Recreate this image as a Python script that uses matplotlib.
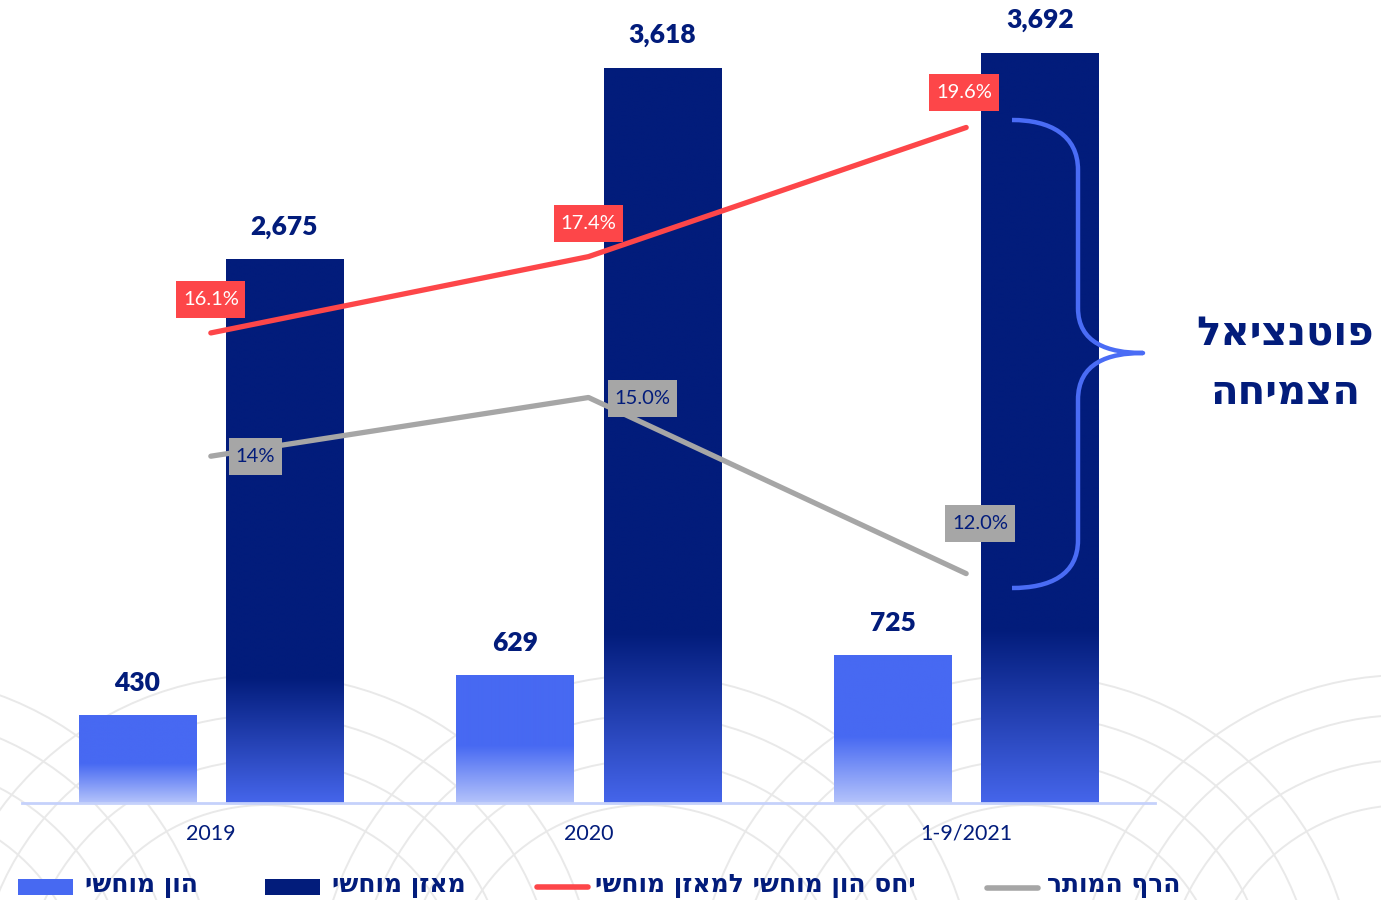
import numpy as np
import matplotlib
matplotlib.use('Agg')
import matplotlib.pyplot as plt
from matplotlib.colors import LinearSegmentedColormap
from matplotlib.path import Path
from matplotlib.patches import PathPatch, Rectangle, Circle

# ---------------- data ----------------
categories = ['2019', '2020', '1-9/2021']
tangible_equity = [430, 629, 725]          # הון מוחשי
tangible_balance = [2675, 3618, 3692]      # מאזן מוחשי
ratio = [16.1, 17.4, 19.6]                 # יחס הון מוחשי למאזן מוחשי
threshold = [14.0, 15.0, 12.0]             # הרף המותר
ratio_labels = ['16.1%', '17.4%', '19.6%']
threshold_labels = ['14%', '15.0%', '12.0%']
legend_labels = ['הון מוחשי', 'מאזן מוחשי', 'יחס הון מוחשי למאזן מוחשי', 'הרף המותר']
side_label = ['פוטנציאל', 'הצמיחה']

# ---------------- style ----------------
NAVY = '#021c7b'
LIGHT = '#4769f2'
RED = '#fd4649'
GRAY = '#a6a6a6'
BRACE = '#4a6cf5'
HEB = ['DejaVu Sans', 'Liberation Sans']
NUM = ['Lato', 'DejaVu Sans']


def rtl(s):
    return s[::-1]


def label_box(x0, y0, width, height, mutation_size):
    """Rectangular label box with more vertical than horizontal padding."""
    px = 0.33 * mutation_size
    py = 0.5 * mutation_size
    xa, xb = x0 - px, x0 + width + px
    ya, yb = y0 - py, y0 + height + py
    return Path([(xa, ya), (xb, ya), (xb, yb), (xa, yb), (xa, ya)],
                closed=True)


W, H = 1381, 900
fig = plt.figure(figsize=(W / 100, H / 100), dpi=100)

# background decorative arcs (pixel coordinates)
bg = fig.add_axes([0, 0, 1, 1], zorder=0)
bg.set_xlim(0, W)
bg.set_ylim(H, 0)
bg.axis('off')
for cx in np.arange(-114, W + 400, 380):
    for r in [200, 245, 290, 330]:
        bg.add_patch(Circle((cx, 1005), r, fill=False, ec='#e9e9e9', lw=1.4))

# main axes
ax = fig.add_axes([22 / W, 97 / H, 1133 / W, 803 / H], zorder=1)
ax.patch.set_alpha(0)

x = np.arange(len(categories))
bw = 0.31
off = 0.195

grad = np.linspace(0, 1, 256).reshape(-1, 1)
cm_light = LinearSegmentedColormap.from_list(
    'l', [(0, '#b4c3fb'), (0.45, LIGHT), (1, LIGHT)])
cm_dark = LinearSegmentedColormap.from_list(
    'd', [(0, '#4565ea'), (0.23, NAVY), (1, NAVY)])

bars1 = ax.bar(x - off, tangible_equity, bw, color='none', edgecolor='none')
bars2 = ax.bar(x + off, tangible_balance, bw, color='none', edgecolor='none')
for bars, cm in [(bars1, cm_light), (bars2, cm_dark)]:
    for rect in bars:
        x0 = rect.get_x()
        ax.imshow(grad, extent=[x0, x0 + rect.get_width(), 0, rect.get_height()],
                  cmap=cm, aspect='auto', origin='lower', zorder=2,
                  interpolation='bilinear')
        ax.annotate(f'{rect.get_height():,.0f}',
                    (x0 + rect.get_width() / 2, rect.get_height()),
                    xytext=(0, 23.5), textcoords='offset points',
                    ha='center', va='center', fontsize=19, fontweight='heavy',
                    color=NAVY, family=NUM)

ax.set_xlim(-0.5, 2.5)
ax.set_ylim(0, 803 / 0.20314)
ax.set_xticks(x)
ax.set_xticklabels(categories, fontsize=15.5, color=NAVY, family=NUM)
ax.tick_params(axis='x', length=0, pad=15)
ax.set_yticks([])
for s in ['top', 'left', 'right']:
    ax.spines[s].set_visible(False)
ax.spines['bottom'].set_color('#c5d1fb')
ax.spines['bottom'].set_linewidth(2)

# secondary axis for ratios
ax2 = ax.twinx()
ax2.set_ylim((1278 - 803) / 58.7, 1278 / 58.7)
ax2.set_xlim(-0.5, 2.5)
ax2.axis('off')
ax2.plot(x, ratio, color=RED, lw=3.8, solid_capstyle='round', zorder=3)
ax2.plot(x, threshold, color=GRAY, lw=3.8, solid_capstyle='round', zorder=3)

red_offsets = [(0, 24), (0, 24), (-1.5, 25)]
gray_offsets = [(32, 0), (39, -0.5), (10, 36)]
for i in range(len(x)):
    ax2.annotate(ratio_labels[i], (x[i], ratio[i]), xytext=red_offsets[i],
                 textcoords='offset points', ha='center', va='center',
                 fontsize=14.5, color='white', family=NUM, zorder=5,
                 bbox=dict(boxstyle=label_box, fc=RED, ec='none'))
    ax2.annotate(threshold_labels[i], (x[i], threshold[i]), xytext=gray_offsets[i],
                 textcoords='offset points', ha='center', va='center',
                 fontsize=14.5, color=NAVY, family=NUM, zorder=5,
                 bbox=dict(boxstyle=label_box, fc=GRAY, ec='none'))

# overlay axes (pixel coordinates) for brace, side label and legend
ov = fig.add_axes([0, 0, 1, 1], zorder=3)
ov.set_xlim(0, W)
ov.set_ylim(H, 0)
ov.axis('off')
ov.patch.set_alpha(0)

verts = [(1012, 120), (1050, 120), (1078, 135), (1078, 170),
         (1078, 308),
         (1078, 343), (1108, 353), (1143, 353),
         (1108, 353), (1078, 363), (1078, 400),
         (1078, 540),
         (1078, 575), (1050, 588), (1012, 588)]
codes = [Path.MOVETO, Path.CURVE4, Path.CURVE4, Path.CURVE4,
         Path.LINETO,
         Path.CURVE4, Path.CURVE4, Path.CURVE4,
         Path.CURVE4, Path.CURVE4, Path.CURVE4,
         Path.LINETO,
         Path.CURVE4, Path.CURVE4, Path.CURVE4]
ov.add_patch(PathPatch(Path(verts, codes), fill=False, ec=BRACE, lw=3.2,
                       capstyle='butt', joinstyle='round'))

ov.text(1285, 335, rtl(side_label[0]), ha='center', va='center', fontsize=29,
        fontweight='bold', color=NAVY, family=HEB)
ov.text(1285, 393, rtl(side_label[1]), ha='center', va='center', fontsize=29,
        fontweight='bold', color=NAVY, family=HEB)

# legend
ov.add_patch(Rectangle((18, 879), 55, 16, fc=LIGHT, ec='none'))
ov.add_patch(Rectangle((265, 879), 55, 16, fc=NAVY, ec='none'))
ov.plot([537, 588], [887, 887], color=RED, lw=4, solid_capstyle='round')
ov.plot([987, 1038], [888, 888], color=GRAY, lw=4, solid_capstyle='round')
legend_x = [85, 332, 595, 1047]
for lx, lab in zip(legend_x, legend_labels):
    ov.text(lx, 886, rtl(lab), ha='left', va='center', fontsize=18,
            fontweight='bold', color=NAVY, family=HEB)

fig.savefig('out.png', dpi=100)
